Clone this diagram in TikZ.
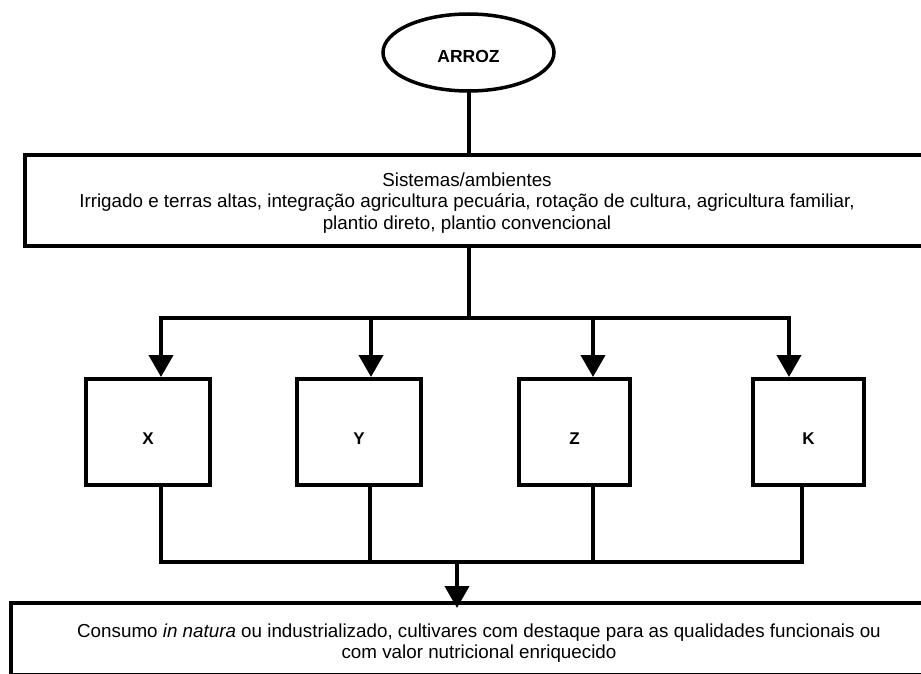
\documentclass[tikz,border=0pt]{standalone}
\usepackage{fontspec}
\setmainfont{Liberation Sans}
\usetikzlibrary{arrows.meta, shapes.geometric, positioning}
\tikzset{
  flarrow/.style={-{Triangle[width=24pt, length=22pt]}, line width=4pt},
  flline/.style={line width=4pt, line cap=rect},
  flbox/.style={rectangle, draw, line width=4pt, inner sep=0pt},
  flcase/.style={flbox, minimum height=106pt, text height=24pt, text depth=0pt,
    font=\fontsize{17}{20}\selectfont\bfseries},
  flstart/.style={ellipse, draw, line width=3.5pt, inner sep=0pt, text height=21pt, text depth=0pt,
    minimum width=171pt, minimum height=77pt, font=\fontsize{17.5}{20}\selectfont\bfseries},
  fltext/.style={align=center, inner sep=0pt, font=\fontsize{18.8}{21.5}\selectfont},
}

\begin{document}
\begin{tikzpicture}[x=1pt, y=-1pt]
  \useasboundingbox (0,0) rectangle (921,674);

  % Rice and its systems.
  \node[flstart] (arroz) at (468.5,52.5) {ARROZ};
  \node[flbox, minimum width=910pt, minimum height=91pt] (sistemas) at (480,200.5) {};
  \node[fltext] (sistemastxt) at (467,203)
    {Sistemas/ambientes\\
     Irrigado e terras altas, integração agricultura pecuária, rotação de cultura, agricultura familiar,\\
     plantio direto, plantio convencional};

  % The four cases.
  \node[flcase, minimum width=124pt] (x) at (148,432) {X};
  \node[flcase, minimum width=124pt] (y) at (359,432) {Y};
  \node[flcase, minimum width=111pt] (z) at (574.5,432) {Z};
  \node[flcase, minimum width=111pt] (k) at (808.5,432) {K};

  % Final use.
  \node[flbox, minimum width=924pt, minimum height=72pt] (consumo) at (473,639) {};
  \node[fltext] (consumotxt) at (479,643)
    {Consumo \textit{in natura} ou industrializado, cultivares com destaque para as qualidades funcionais ou\\
     com valor nutricional enriquecido};

  % Branching points.
  \coordinate (split) at (468.5,318);
  \coordinate (splitl) at (161,318);
  \coordinate (splitr) at (789,318);
  \coordinate (joinl) at (161,562);
  \coordinate (joinr) at (802,562);
  \coordinate (join) at (457,562);

  % Edges.
  \draw[flline] (arroz.south) -- (arroz.south |- sistemas.north);
  \draw[flline] (sistemas.south -| split) -- (split);
  \draw[flline] (splitl) -- (splitr);
  \draw[flarrow] (splitl) -- (splitl |- x.north);
  \draw[flarrow] (371,318) -- (371,377);
  \draw[flarrow] (593,318) -- (593,377);
  \draw[flarrow] (splitr) -- (splitr |- k.north);

  \draw[flline] (x.south -| joinl) -- (joinl) -- (joinr) -- (k.south -| joinr);
  \draw[flline] (y.south -| 370,0) -- (370,562);
  \draw[flline] (z.south -| 593,0) -- (593,562);
  \draw[flarrow] (join) -- ([yshift=-7pt]join |- consumo.north);
\end{tikzpicture}
\end{document}
